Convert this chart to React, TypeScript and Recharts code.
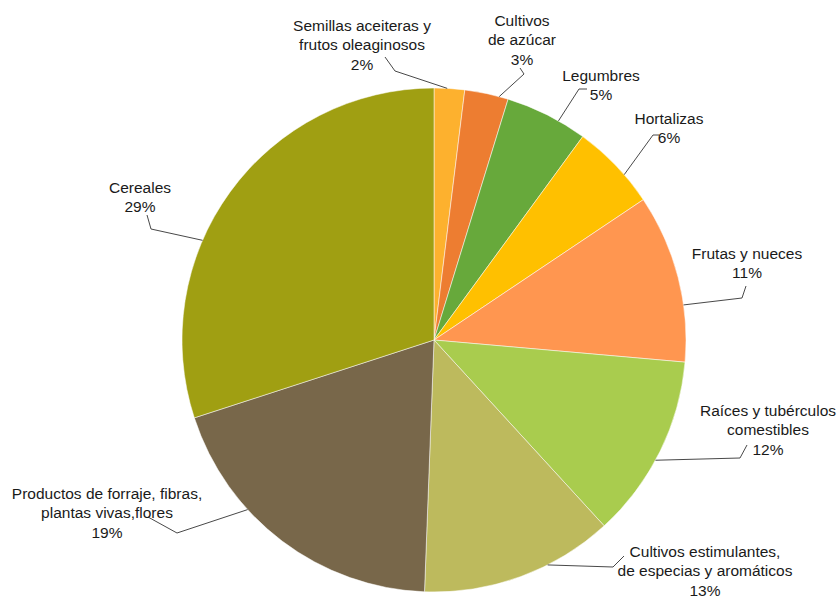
import React from "react";
import { PieChart, Pie, Cell } from "recharts";

const CATEGORIES = [
  "Semillas aceiteras y\nfrutos oleaginosos",
  "Cultivos\nde azúcar",
  "Legumbres",
  "Hortalizas",
  "Frutas y nueces",
  "Raíces y tubérculos\ncomestibles",
  "Cultivos estimulantes,\nde especias y aromáticos",
  "Productos de forraje, fibras,\nplantas vivas,flores",
  "Cereales",
];

// slice sizes
const SHARES = [1.95, 2.8, 5.3, 5.55, 10.8, 11.8, 12.4, 19.4, 30.0];

// percentages as printed on the labels
const PCT_LABELS = ["2%", "3%", "5%", "6%", "11%", "12%", "13%", "19%", "29%"];

const COLORS = [
  "#FDB12E",
  "#ED7D31",
  "#67A93B",
  "#FFC000",
  "#FF9650",
  "#A9CC4E",
  "#BDBA5D",
  "#78674A",
  "#A09F12",
];

const data = CATEGORIES.map((name, i) => ({ name, value: SHARES[i] }));

// label placement, relative to the pie centre: text centre (x, first line y),
// leader start, elbow, and the angle (deg clockwise from top) where it meets the rim
const LABELS = [
  { x: -72, y: -315, p1: [-49, -283], p2: [-39, -269], a: 3 },
  { x: 88, y: -320, p1: [86, -272], p2: [90, -266], a: 15 },
  { x: 167, y: -265, p1: [153, -251], p2: [145, -251], a: 29.6 },
  { x: 235, y: -222, p1: [225, -205], p2: [219, -205], a: 49 },
  { x: 313, y: -87, p1: [312, -54], p2: [308, -42], a: 82 },
  { x: 334, y: 70, p1: [313, 105], p2: [306, 118], a: 118.5 },
  { x: 271, y: 211, p1: [190, 216], p2: [179, 227], a: 153.2 },
  { x: -327, y: 153, p1: [-286, 177], p2: [-257, 193], a: 227.7 },
  { x: -294, y: -153, p1: [-287, -125], p2: [-283, -111], a: 293.3 },
];

const LINE_H = 19.5;

const renderLabel = (props: any) => {
  const { cx, cy, outerRadius, index } = props;
  const l = LABELS[index];
  const rad = (l.a * Math.PI) / 180;
  const ex = cx + outerRadius * Math.sin(rad);
  const ey = cy - outerRadius * Math.cos(rad);
  const lines = [...CATEGORIES[index].split("\n"), PCT_LABELS[index]];
  return (
    <g key={`lbl-${index}`}>
      <polyline
        points={`${cx + l.p1[0]},${cy + l.p1[1]} ${cx + l.p2[0]},${cy + l.p2[1]} ${ex},${ey}`}
        fill="none"
        stroke="#333"
        strokeWidth={0.9}
      />
      <text
        x={cx + l.x}
        y={cy + l.y}
        textAnchor="middle"
        fill="#1a1a1a"
        fontSize={15.5}
        fontFamily="'Liberation Sans', Arial, sans-serif"
      >
        {lines.map((t, j) => (
          <tspan key={j} x={cx + l.x} y={cy + l.y + j * LINE_H} dominantBaseline="central">
            {t}
          </tspan>
        ))}
      </text>
    </g>
  );
};

export default function App() {
  return (
    <div style={{ position: "absolute", left: 0, top: 0, width: 839, height: 600, background: "#fff" }}>
      <PieChart width={839} height={600} margin={{ top: 0, right: 0, bottom: 0, left: 0 }}>
        <Pie
          data={data}
          dataKey="value"
          nameKey="name"
          cx={434}
          cy={340}
          outerRadius={252}
          startAngle={90}
          endAngle={-270}
          stroke="#fff"
          strokeWidth={0.5}
          label={renderLabel}
          labelLine={false}
          isAnimationActive={false}
        >
          {data.map((d, i) => (
            <Cell key={d.name} fill={COLORS[i]} />
          ))}
        </Pie>
      </PieChart>
    </div>
  );
}
